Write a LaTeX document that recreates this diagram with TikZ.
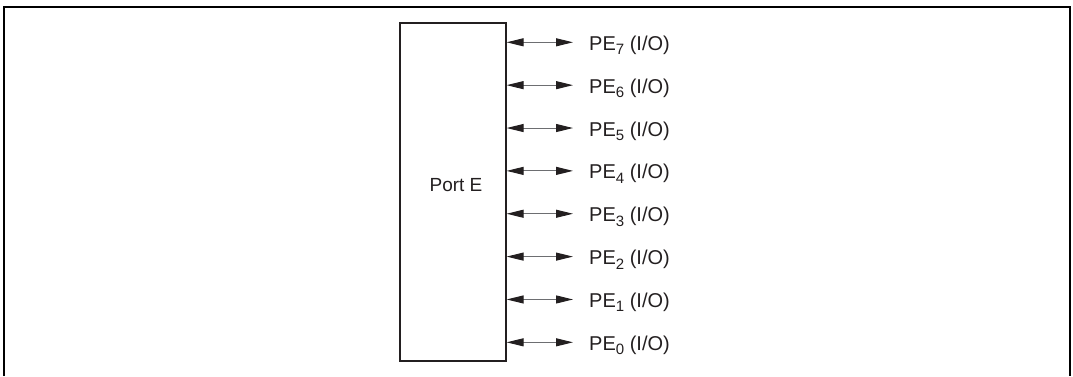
\documentclass[tikz,border=0pt]{standalone}
\usepackage{fontspec}
\setmainfont{Liberation Sans}
\usepackage{xcolor}
\definecolor{PortInk}{HTML}{231F20}
\definecolor{PortLine}{HTML}{6D6E71}
\usepackage{tikz}
\usetikzlibrary{positioning, calc, arrows.meta}
\newcommand{\pinsub}[1]{\raisebox{-4.5pt}{\fontsize{15}{17}\selectfont #1}}

\begin{document}
\begin{tikzpicture}[x=1pt, y=-1pt,
    portbox/.style={draw=PortInk, line width=1.2pt, minimum width=106pt,
      minimum height=338pt, inner sep=0pt},
    pinlink/.style={PortLine, line width=1pt,
      {Triangle[length=17pt, width=8pt, color=PortInk]}-{Triangle[length=17pt, width=8pt, color=PortInk]}},
    pinlabel/.style={anchor=base west, inner sep=0pt, font=\fontsize{20}{24}\selectfont\color{PortInk}}]
  \useasboundingbox (0,0) rectangle (1073,376);
  %% outer frame (open at the bottom)
  \draw[black, line width=2pt] (4,376) -- (4,6.5) -- (1069.5,6.5) -- (1069.5,376);

  %% port block
  \node[portbox] (porte) at (453,192) {};
  \node[font=\fontsize{19}{23}\selectfont\color{PortInk}] (portname)
    at ($(porte.center)+(3,-7)$) {Port E};

  %% pins PE7 ... PE0
  \foreach \i/\bit in {0/7, 1/6, 2/5, 3/4, 4/3, 5/2, 6/1, 7/0}{
    \pgfmathsetmacro{\py}{42.3 + \i * 42.86}
    \coordinate (pin\bit) at (573,\py);
    \node[pinlabel] (pe\bit) at ($(pin\bit)+(16,8)$) {PE\pinsub{\bit} (I/O)};
    \draw[pinlink] (porte.east |- pin\bit) -- (pin\bit);
  }
\end{tikzpicture}
\end{document}
